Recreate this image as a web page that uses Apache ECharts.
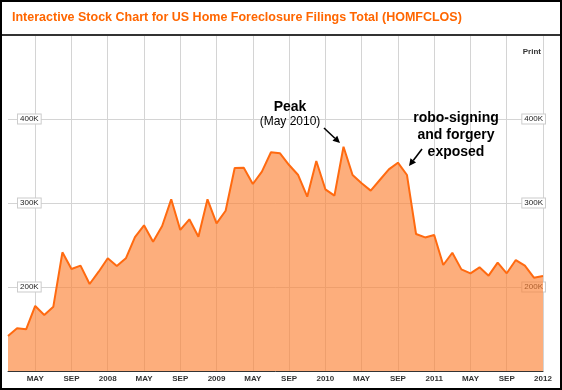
<!DOCTYPE html>
<html><head><meta charset="utf-8">
<script src="https://cdn.jsdelivr.net/npm/echarts@6/dist/echarts.min.js"></script>
<style>html,body{margin:0;padding:0;background:#fff}#c{width:562px;height:390px}</style>
</head><body><div id="c"></div>
<script>
const categories = ['2007-02','2007-03','2007-04','2007-05','2007-06','2007-07','2007-08','2007-09','2007-10','2007-11','2007-12',
'2008-01','2008-02','2008-03','2008-04','2008-05','2008-06','2008-07','2008-08','2008-09','2008-10','2008-11','2008-12',
'2009-01','2009-02','2009-03','2009-04','2009-05','2009-06','2009-07','2009-08','2009-09','2009-10','2009-11','2009-12',
'2010-01','2010-02','2010-03','2010-04','2010-05','2010-06','2010-07','2010-08','2010-09','2010-10','2010-11','2010-12',
'2011-01','2011-02','2011-03','2011-04','2011-05','2011-06','2011-07','2011-08','2011-09','2011-10','2011-11','2011-12','2012-01'];
const filings = [141700,150800,149600,177400,166700,176600,241300,221400,225400,203600,218200,
234200,225000,234200,259500,273400,254000,272600,304400,267900,280600,259900,
304400,275800,290800,341700,342000,322600,337300,360400,359200,345200,333300,
307500,350000,316300,308700,367000,333300,323400,314700,327400,340000,348000,
333300,263100,259000,261900,226200,240800,221000,216300,223400,213500,229000,
216300,232100,225400,211100,213000];
const tickLabels = ['MAY','SEP','2008','MAY','SEP','2009','MAY','SEP','2010','MAY','SEP','2011','MAY','SEP','2012'];
const yMin = 100000, yMax = 500000, yStep = 100000;

const FONT = 'Liberation Sans, Arial, sans-serif';
const chart = echarts.init(document.getElementById('c'), null, {renderer:'canvas'});
const isTick = i => i % 4 === 3;

function arrow(x1,y1,x2,y2){
  const dx=x2-x1, dy=y2-y1, L=Math.hypot(dx,dy), ux=dx/L, uy=dy/L;
  const hl=7, hw=3.5, bx=x2-ux*hl, by=y2-uy*hl, px=-uy, py=ux;
  return [
    {type:'line', shape:{x1:x1,y1:y1,x2:bx,y2:by}, style:{stroke:'#000', lineWidth:1.6}, z:100},
    {type:'polygon', shape:{points:[[x2,y2],[bx+px*hw,by+py*hw],[bx-px*hw,by-py*hw]]}, style:{fill:'#000'}, z:100}
  ];
}
const yLabel = {
  inside:true, showMinLabel:false, showMaxLabel:false,
  formatter: v => (v/1000) + 'K',
  backgroundColor:'#fff', borderColor:'#ccc', borderWidth:1, padding:[1,2,0,2],
  fontSize:8, color:'#222', fontFamily:FONT
};
chart.setOption({
  animation:false,
  grid:{left:8, right:19, top:35, bottom:19, containLabel:false},
  xAxis:{
    type:'category', data:categories, boundaryGap:false,
    axisLine:{lineStyle:{color:'#333', width:1}},
    axisTick:{show:false},
    splitLine:{show:true, interval:(i)=>isTick(i), lineStyle:{color:'#d4d4d4', width:1}},
    axisLabel:{interval:(i)=>isTick(i), formatter:(v,i)=>tickLabels[(i-3)/4], fontSize:8, fontWeight:'bold', color:'#333', margin:4, fontFamily:FONT}
  },
  yAxis:[
    {type:'value', min:yMin, max:yMax, interval:yStep, position:'left',
     axisLine:{show:false}, axisTick:{show:false},
     splitLine:{lineStyle:{color:'#d4d4d4'}},
     axisLabel:Object.assign({margin:10}, yLabel)},
    {type:'value', min:yMin, max:yMax, interval:yStep, position:'right',
     axisLine:{show:true, lineStyle:{color:'#d4d4d4'}}, axisTick:{show:false},
     splitLine:{show:false},
     axisLabel:Object.assign({margin:-2}, yLabel)}
  ],
  series:[{
    type:'line', data:filings, symbol:'none', yAxisIndex:0,
    lineStyle:{color:'#ff6a10', width:2},
    areaStyle:{color:'rgba(252,128,50,0.64)', opacity:1}
  }],
  graphic:[
    {type:'rect', shape:{x:1,y:1,width:560,height:388}, style:{fill:'none', stroke:'#000', lineWidth:2}, z:100},
    {type:'line', shape:{x1:2,y1:35,x2:560,y2:35}, style:{stroke:'#333', lineWidth:2}, z:100},
    {type:'text', x:12, y:18, style:{text:'Interactive Stock Chart for US Home Foreclosure Filings Total (HOMFCLOS)', fill:'#ff6600', font:'bold 12.5px '+FONT, textVerticalAlign:'middle'}, z:100},
    {type:'text', x:541, y:52, style:{text:'Print', fill:'#333', font:'bold 8px '+FONT, textAlign:'right', textVerticalAlign:'middle'}, z:100},
    {type:'text', x:290, y:107, style:{text:'Peak', fill:'#000', font:'bold 14px '+FONT, textAlign:'center', textVerticalAlign:'middle'}, z:100},
    {type:'text', x:290, y:122, style:{text:'(May 2010)', fill:'#000', font:'12px '+FONT, textAlign:'center', textVerticalAlign:'middle'}, z:100},
    {type:'text', x:456, y:118, style:{text:'robo-signing', fill:'#000', font:'bold 14px '+FONT, textAlign:'center', textVerticalAlign:'middle'}, z:100},
    {type:'text', x:456, y:135, style:{text:'and forgery', fill:'#000', font:'bold 14px '+FONT, textAlign:'center', textVerticalAlign:'middle'}, z:100},
    {type:'text', x:456, y:152, style:{text:'exposed', fill:'#000', font:'bold 14px '+FONT, textAlign:'center', textVerticalAlign:'middle'}, z:100}
  ].concat(arrow(324,128,340,143)).concat(arrow(422,149,409,166))
});
</script></body></html>
